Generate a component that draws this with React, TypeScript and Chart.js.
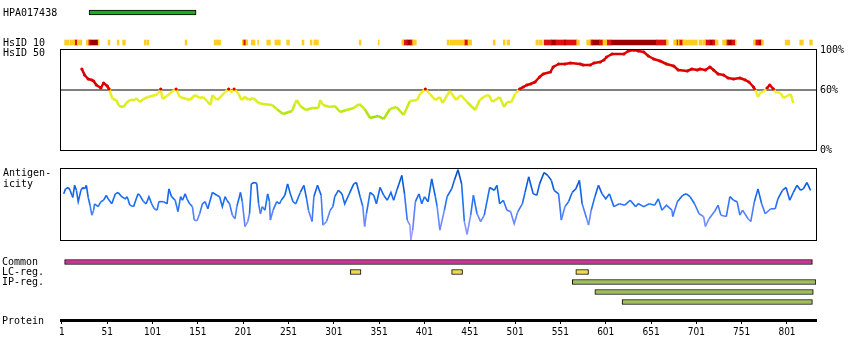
import React, { useEffect, useRef } from 'react';
import { Chart, registerables } from 'chart.js';

Chart.register(...registerables);

// ---------------- data ----------------
const proteinLength = 833;
const proteinTicks = [1, 51, 101, 151, 201, 251, 301, 351, 401, 451, 501, 551, 601, 651, 701, 751, 801];

const hpaAntigen: [number, number] = [31, 149];

const hsid10Gold: [number, number][] = [
  [4, 9], [10, 15], [18, 23], [28, 30], [41, 42], [52, 54], [62, 64], [68, 71], [92, 94], [95, 97],
  [137, 139], [169, 176], [200, 201], [204, 206], [210, 214], [217, 218], [227, 231], [236, 242],
  [249, 252], [266, 268], [275, 277], [279, 284], [329, 331], [350, 351], [376, 378], [388, 392],
  [426, 428], [429, 445], [449, 453], [477, 479], [488, 490], [492, 495], [524, 526], [527, 531],
  [569, 572], [580, 584], [598, 602], [668, 670], [676, 679], [681, 682], [686, 702], [704, 707],
  [708, 711], [722, 725], [730, 734], [744, 745], [764, 766], [773, 775], [799, 804], [815, 819], [826, 829],
];
const hsid10Red: [number, number][] = [
  [15, 18], [30, 32], [201, 204], [378, 382], [386, 388], [445, 449], [533, 541], [546, 555],
  [557, 569], [584, 586], [594, 598], [602, 607], [657, 668], [679, 681], [682, 686], [711, 716],
  [719, 722], [734, 736], [740, 744], [766, 770], [772, 773],
];
const hsid10DarkRed: [number, number][] = [
  [32, 41], [382, 386], [541, 546], [555, 557], [586, 594], [607, 657], [716, 719], [736, 740], [770, 772],
];

// residue, % identity
const hsid50: [number, number][] = [
  [23, 81], [26, 75], [30, 71], [34, 70], [36, 69], [39, 65], [44, 62], [47, 67], [51, 64], [53, 61],
  [54, 58], [57, 51], [61, 50], [64, 44], [69, 43], [72, 47], [76, 50], [82, 50], [83, 52], [87, 48],
  [91, 51], [96, 53], [104, 55], [107, 56], [110, 61], [112, 51], [117, 54], [122, 58], [127, 61], [131, 53],
  [139, 51], [142, 50], [148, 55], [153, 52], [157, 53], [161, 49], [165, 45], [167, 55], [172, 50], [176, 53],
  [181, 58], [185, 61], [188, 58], [191, 61], [196, 56], [199, 50], [203, 53], [207, 50], [212, 52], [218, 47],
  [223, 46], [233, 45], [238, 41], [245, 36], [255, 39], [258, 46], [260, 50], [264, 44], [270, 40], [277, 42],
  [284, 42], [286, 50], [289, 45], [297, 43], [302, 44], [308, 38], [315, 40], [323, 42], [329, 46], [335, 41],
  [341, 32], [350, 34], [356, 31], [363, 41], [370, 43], [378, 35], [385, 49], [393, 50], [396, 56], [402, 61],
  [407, 56], [413, 50], [418, 53], [421, 47], [429, 59], [436, 50], [441, 55], [448, 48], [457, 40], [462, 50],
  [468, 54], [472, 55], [476, 48], [484, 53], [489, 43], [492, 48], [497, 48], [501, 56], [506, 61], [510, 63],
  [514, 65], [518, 66], [523, 68], [528, 73], [532, 76], [540, 78], [543, 83], [549, 86], [556, 86], [562, 87],
  [573, 86], [576, 85], [584, 85], [588, 87], [595, 88], [599, 90], [602, 93], [608, 96], [621, 96], [626, 99],
  [632, 100], [637, 99], [643, 98], [648, 94], [654, 91], [661, 89], [668, 86], [676, 84], [681, 80], [691, 79],
  [696, 81], [702, 80], [705, 81], [711, 80], [716, 83], [720, 80], [725, 76], [731, 75], [736, 72], [742, 71],
  [749, 72], [755, 70], [759, 68], [764, 63], [766, 60], [769, 53], [772, 58], [775, 58], [779, 62], [782, 65],
  [786, 61], [788, 58], [794, 57], [797, 52], [801, 54], [805, 56], [808, 47],
];
const hsidThreshold = 60;

// residue, antigenicity score (arbitrary 0-100)
const antigenicity: [number, number][] = [
  [3, 65], [5, 72], [8, 74], [10, 70], [12, 63], [13, 60], [15, 77], [17, 70], [19, 54], [22, 70],
  [24, 74], [26, 72], [28, 77], [30, 60], [32, 49], [34, 35], [36, 42], [37, 51], [41, 47], [44, 54],
  [47, 56], [50, 63], [52, 58], [56, 51], [60, 65], [63, 67], [67, 61], [71, 58], [73, 61], [76, 49],
  [80, 47], [85, 65], [87, 63], [91, 54], [94, 51], [97, 61], [100, 51], [103, 44], [106, 42], [108, 54],
  [113, 54], [117, 51], [119, 72], [122, 61], [126, 56], [129, 40], [132, 61], [134, 56], [137, 65], [139, 58],
  [142, 51], [145, 47], [147, 28], [150, 27], [153, 37], [156, 51], [159, 54], [162, 44], [167, 67], [172, 63],
  [175, 61], [178, 47], [181, 61], [183, 56], [186, 51], [189, 35], [192, 30], [194, 47], [198, 67], [200, 54],
  [203, 19], [206, 26], [208, 37], [210, 79], [213, 81], [216, 80], [218, 51], [220, 37], [222, 47], [225, 42],
  [228, 65], [230, 54], [231, 28], [234, 42], [238, 54], [241, 51], [243, 56], [247, 63], [250, 79], [253, 65],
  [256, 54], [259, 51], [264, 67], [268, 77], [271, 58], [273, 42], [277, 26], [279, 61], [283, 77], [287, 63],
  [289, 21], [293, 26], [297, 42], [300, 47], [302, 61], [306, 70], [310, 65], [313, 51], [318, 65], [323, 79],
  [326, 81], [330, 61], [333, 47], [335, 19], [337, 37], [341, 67], [345, 63], [348, 51], [352, 74], [356, 63],
  [360, 56], [364, 67], [367, 56], [371, 72], [376, 91], [379, 65], [382, 28], [385, 21], [386, 0], [388, 14],
  [391, 54], [395, 65], [398, 51], [401, 61], [405, 54], [409, 86], [413, 61], [415, 47], [418, 14], [423, 42],
  [426, 61], [431, 72], [434, 84], [438, 99], [442, 79], [445, 26], [448, 8], [452, 35], [455, 63], [459, 37],
  [463, 26], [467, 35], [473, 74], [478, 70], [481, 77], [484, 51], [488, 56], [492, 42], [496, 40], [500, 23],
  [504, 40], [509, 51], [512, 67], [516, 89], [521, 65], [525, 63], [528, 79], [533, 95], [537, 91], [541, 84],
  [544, 70], [549, 65], [552, 28], [556, 47], [560, 54], [564, 67], [568, 72], [572, 84], [575, 51], [580, 30],
  [582, 21], [585, 42], [589, 61], [593, 77], [597, 65], [601, 58], [605, 65], [610, 47], [616, 51], [622, 49],
  [628, 56], [634, 47], [637, 51], [643, 47], [649, 51], [655, 49], [659, 58], [663, 42], [668, 49], [674, 42],
  [675, 33], [680, 54], [686, 63], [690, 65], [694, 61], [699, 51], [704, 37], [709, 33], [711, 19], [715, 30],
  [721, 40], [725, 49], [728, 35], [734, 33], [738, 61], [742, 56], [746, 54], [749, 35], [752, 42], [758, 30],
  [761, 26], [765, 54], [769, 72], [773, 51], [777, 37], [783, 44], [788, 44], [791, 58], [796, 70], [800, 74],
  [804, 56], [808, 67], [812, 77], [816, 70], [819, 72], [823, 81], [827, 70],
];

const commonRegion: [number, number] = [4, 829];
const lcRegions: [number, number][] = [[319, 331], [431, 443], [568, 582]];
const ipRegions: [number, number][] = [[564, 833], [589, 830], [619, 829]];
const featureRows = ['Common', 'LC', 'IP1', 'IP2', 'IP3'];
const ipRows = ['IP1', 'IP2', 'IP3'];

// ---------------- styling helpers ----------------
const W = 850;
const PAD_L = 61;
const PAD_R = 34;
const MONO = '"DejaVu Sans Mono", monospace';
const NARROW = '"Liberation Sans Narrow", "DejaVu Sans Condensed", sans-serif';
const RED = '#DD0000';

function lerpColor(stops: [number, number[]][], v: number): string {
  if (v <= stops[0][0]) return `rgb(${stops[0][1].join(',')})`;
  for (let i = 1; i < stops.length; i++) {
    if (v <= stops[i][0]) {
      const [v0, c0] = stops[i - 1];
      const [v1, c1] = stops[i];
      const t = (v - v0) / (v1 - v0);
      const c = c0.map((c, k) => Math.round(c + (c1[k] - c) * t));
      return `rgb(${c.join(',')})`;
    }
  }
  return `rgb(${stops[stops.length - 1][1].join(',')})`;
}

const hsidStops: [number, number[]][] = [
  [30, [150, 222, 0]],
  [45, [212, 238, 30]],
  [60, [245, 240, 40]],
];
function hsidColor(a: number, b: number) {
  if (Math.min(a, b) >= hsidThreshold) return RED;
  return lerpColor(hsidStops, (a + b) / 2);
}

const antiStops: [number, number[]][] = [
  [0, [185, 165, 255]],
  [30, [105, 135, 255]],
  [55, [25, 110, 245]],
  [100, [0, 72, 190]],
];
function antiColor(a: number, b: number) {
  return lerpColor(antiStops, (a + b) / 2);
}

const framePlugin = {
  id: 'frame',
  afterDatasetsDraw(chart: any) {
    const { ctx, chartArea: a } = chart;
    ctx.save();
    ctx.strokeStyle = '#000';
    ctx.lineWidth = 1;
    ctx.strokeRect(Math.round(a.left) - 0.5, Math.round(a.top) - 0.5, Math.round(a.right - a.left) + 1, Math.round(a.bottom - a.top) + 1);
    ctx.restore();
  },
};

function baseOptions(top: number, bottom: number, right = PAD_R) {
  return {
    responsive: false,
    maintainAspectRatio: false,
    animation: false as const,
    events: [] as any[],
    layout: { padding: { left: PAD_L, right, top, bottom } },
    plugins: { legend: { display: false }, tooltip: { enabled: false } },
  };
}

const xHidden = { type: 'linear' as const, min: 0, max: proteinLength, display: false };

function ChartCanvas({ top, height, build }: { top: number; height: number; build: () => any }) {
  const ref = useRef<HTMLCanvasElement>(null);
  useEffect(() => {
    const chart = new Chart(ref.current as HTMLCanvasElement, build());
    return () => chart.destroy();
  }, []);
  return (
    <canvas
      ref={ref}
      width={W}
      height={height}
      style={{ position: 'absolute', left: 0, top, width: W, height, display: 'block' }}
    />
  );
}

function Label({ x, y, text }: { x: number; y: number; text: string }) {
  return (
    <div
      style={{
        position: 'absolute', left: x, top: y - 6, height: 12, lineHeight: '12px',
        fontSize: 10, fontFamily: MONO, color: '#000', whiteSpace: 'pre',
      }}
    >
      {text}
    </div>
  );
}

// ---------------- chart configs ----------------
const barBase = { borderSkipped: false, barThickness: 5, grouped: false };

const hpaConfig = () => ({
  type: 'bar',
  data: {
    labels: ['HPA'],
    datasets: [{ ...barBase, data: [{ y: 'HPA', x: hpaAntigen }], backgroundColor: '#22A822', borderColor: '#000', borderWidth: 1 }],
  },
  options: { ...baseOptions(0, 0), indexAxis: 'y', scales: { x: xHidden, y: { type: 'category', display: false } } },
});

const hsid10Config = () => ({
  type: 'bar',
  data: {
    labels: ['HsID10'],
    datasets: [
      { ...barBase, data: hsid10Gold.map((r) => ({ y: 'HsID10', x: r })), backgroundColor: '#FFCC22', borderWidth: 0 },
      { ...barBase, data: hsid10Red.map((r) => ({ y: 'HsID10', x: r })), backgroundColor: '#DD1111', borderWidth: 0 },
      { ...barBase, data: hsid10DarkRed.map((r) => ({ y: 'HsID10', x: r })), backgroundColor: '#9A0000', borderWidth: 0 },
    ],
  },
  options: { ...baseOptions(0, 0), indexAxis: 'y', scales: { x: xHidden, y: { type: 'category', display: false } } },
});

const hsid50Config = () => ({
  type: 'line',
  data: {
    datasets: [
      {
        data: hsid50.map(([x, y]) => ({ x, y })),
        borderWidth: 2.5,
        borderJoinStyle: 'round',
        borderColor: RED,
        segment: { borderColor: (c: any) => hsidColor(c.p0.parsed.y, c.p1.parsed.y) },
        pointRadius: (c: any) => (c.raw && c.raw.y > hsidThreshold ? 1.6 : 0),
        pointBackgroundColor: RED,
        pointBorderWidth: 0,
      },
      {
        data: [{ x: 0, y: hsidThreshold }, { x: proteinLength, y: hsidThreshold }],
        borderWidth: 1,
        borderColor: '#000',
        pointRadius: 0,
      },
    ],
  },
  options: {
    ...baseOptions(9, 10, 0),
    scales: {
      x: xHidden,
      y: {
        type: 'linear',
        position: 'right',
        min: 0,
        max: 100,
        afterBuildTicks: (s: any) => { s.ticks = [0, 60, 100].map((value) => ({ value })); },
        afterFit: (s: any) => { s.width = 34; },
        grid: { display: false, drawTicks: false },
        border: { display: false },
        ticks: { padding: 4, color: '#000', font: { family: MONO, size: 10 }, callback: (v: any) => v + '%' },
      },
    },
  },
  plugins: [framePlugin],
});

const antiConfig = () => ({
  type: 'line',
  data: {
    datasets: [
      {
        data: antigenicity.map(([x, y]) => ({ x, y })),
        borderWidth: 1.6,
        pointRadius: 0,
        borderColor: '#1166EE',
        segment: { borderColor: (c: any) => antiColor(c.p0.parsed.y, c.p1.parsed.y) },
      },
    ],
  },
  options: { ...baseOptions(9, 10), scales: { x: xHidden, y: { type: 'linear', min: 0, max: 100, display: false } } },
  plugins: [framePlugin],
});

const featureConfig = () => ({
  type: 'bar',
  data: {
    labels: featureRows,
    datasets: [
      { ...barBase, data: [{ y: 'Common', x: commonRegion }], backgroundColor: '#CC3399', borderColor: '#000', borderWidth: 1 },
      { ...barBase, data: lcRegions.map((r) => ({ y: 'LC', x: r })), backgroundColor: '#EEDA4A', borderColor: '#000', borderWidth: 1 },
      { ...barBase, data: ipRegions.map((r, i) => ({ y: ipRows[i], x: r })), backgroundColor: '#A0BE5A', borderColor: '#000', borderWidth: 1 },
    ],
  },
  options: { ...baseOptions(7, 13), indexAxis: 'y', scales: { x: xHidden, y: { type: 'category', display: false } } },
});

const proteinConfig = () => ({
  type: 'line',
  data: { datasets: [{ data: [] as any[] }] },
  options: {
    ...baseOptions(0, 10),
    scales: {
      x: {
        type: 'linear',
        min: 0,
        max: proteinLength,
        position: 'bottom',
        afterBuildTicks: (s: any) => { s.ticks = proteinTicks.map((value) => ({ value })); },
        afterFit: (s: any) => { s.height = 20; },
        grid: { display: true, drawOnChartArea: false, drawTicks: true, tickLength: 4, color: '#000', lineWidth: 1 },
        border: { display: true, color: '#000', width: 3 },
        ticks: { color: '#000', padding: 2, autoSkip: false, maxRotation: 0, font: { family: NARROW, size: 10 }, callback: (v: any) => String(v) },
      },
      y: { display: false },
    },
  },
});

export default function App() {
  return (
    <div style={{ position: 'absolute', left: 0, top: 0, width: W, height: 360, background: '#fff', overflow: 'hidden' }}>
      <ChartCanvas top={0} height={25} build={hpaConfig} />
      <ChartCanvas top={30} height={25} build={hsid10Config} />
      <ChartCanvas top={40} height={120} build={hsid50Config} />
      <ChartCanvas top={160} height={90} build={antiConfig} />
      <ChartCanvas top={250} height={70} build={featureConfig} />
      <ChartCanvas top={290} height={60} build={proteinConfig} />
      <Label x={3} y={12.5} text="HPA017438" />
      <Label x={3} y={42.5} text="HsID 10" />
      <Label x={3} y={52.5} text="HsID 50" />
      <Label x={3} y={172.5} text="Antigen-" />
      <Label x={3} y={183.5} text="icity" />
      <Label x={2} y={262} text="Common" />
      <Label x={2} y={272} text="LC-reg." />
      <Label x={2} y={282} text="IP-reg." />
      <Label x={2} y={320.5} text="Protein" />
    </div>
  );
}
